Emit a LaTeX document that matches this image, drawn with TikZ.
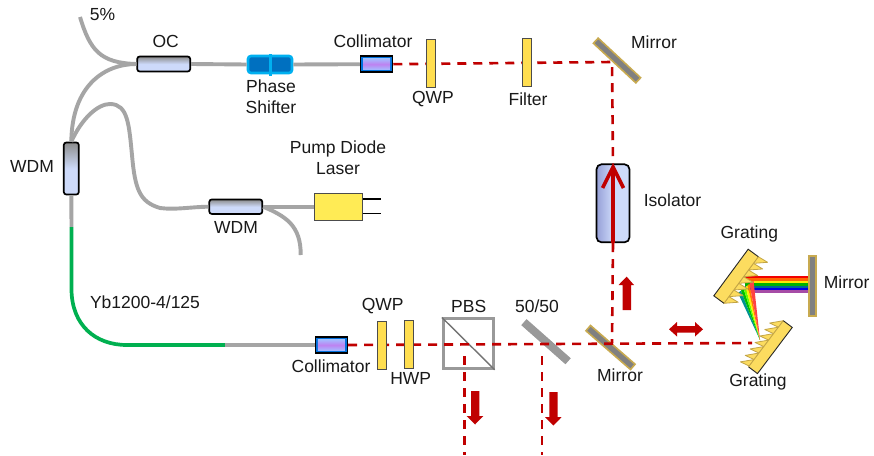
\documentclass[tikz,border=0pt]{standalone}
\usepackage{fontspec}
\setmainfont{Liberation Sans}
\definecolor{beamred}{RGB}{192,0,0}
\definecolor{fibergray}{RGB}{165,165,165}
\definecolor{fibergreen}{RGB}{0,176,80}
\definecolor{plateyellow}{RGB}{255,222,80}
\definecolor{pumpyellow}{RGB}{255,235,85}
\definecolor{gold}{RGB}{200,170,80}
\definecolor{gratefill}{RGB}{252,220,95}
\definecolor{grateedge}{RGB}{195,165,70}
\definecolor{boxblue}{RGB}{205,218,250}
\definecolor{isoleft}{RGB}{150,160,215}
\definecolor{psout}{RGB}{0,176,240}
\definecolor{psin}{RGB}{0,112,192}
\definecolor{colblue}{RGB}{0,112,220}
\definecolor{coledge}{RGB}{165,185,255}
\definecolor{colmid}{RGB}{190,130,240}
\tikzset{
  x=1pt,y=-1pt,
  lbl/.style={font=\fontsize{17.5}{21}\selectfont,text=black!90,inner sep=0pt,align=center},
  fiber/.style={draw=fibergray,line width=3.9pt},
  greenfiber/.style={draw=fibergreen,line width=3.7pt},
  beam/.style={draw=beamred,line width=2.6pt,dash pattern=on 9pt off 7pt},
  coupler/.style={draw=black,line width=1.7pt,rounded corners=2.5pt,inner sep=0pt,top color=black!45,bottom color=boxblue,middle color=boxblue},
  plate/.style={draw=black!70,line width=0.9pt,fill=plateyellow,minimum width=9pt,minimum height=48pt,inner sep=0pt},
  colouter/.style={draw=black,line width=1.5pt,fill=colblue,minimum width=32pt,minimum height=16pt,inner sep=0pt},
  colinner/.style={inner sep=0pt,minimum width=27pt,minimum height=10.5pt,top color=coledge,bottom color=coledge,middle color=colmid},
  mirr/.style={draw=gold,line width=1.6pt,fill=black!50,inner sep=0pt,minimum height=7pt},
  bigarrow/.style={fill=beamred},
  isoarrow/.style={draw=beamred,line width=3.6pt},
  tooth/.style={draw=grateedge,line width=0.8pt,fill=gratefill,line join=round},
  gbody/.style={fill=gratefill},
  gedge/.style={draw=black!85,line width=0.9pt},
  gfront/.style={draw=grateedge,line width=0.8pt},
}
\begin{document}
\begin{tikzpicture}
\useasboundingbox[fill=white] (0,0) rectangle (874,455);
% junction and free-end coordinates
\coordinate (fivepct) at (80,17);
\coordinate (sp1) at (71.5,227);
\coordinate (sp2) at (225,345);
\coordinate (branchend) at (300.7,255);
\coordinate (c1) at (612,62);
\coordinate (c2) at (612,343);
\coordinate (c3) at (752,343);
\coordinate (pbsa) at (464.5,356);
\coordinate (pbsb) at (464.5,455);
\coordinate (bsa) at (542,356);
\coordinate (bsb) at (542,455);
% mirrors behind the beam
\node[mirr,minimum width=58pt,rotate=-43] (mtop) at (617,60.5) {};
\node[mirr,minimum width=59pt,rotate=-41] (mlow) at (610.5,347.5) {};
\node[draw=black!40,line width=1pt,fill=black!40,inner sep=0pt,minimum width=58pt,minimum height=7pt,rotate=-41.5] (bs) at (546,341.7) {};
% PBS
\node[draw=black!40,line width=2.8pt,minimum width=50pt,minimum height=49.5pt,inner sep=0pt] (pbs) at (468.3,343.6) {};
\draw[draw=black!55,line width=1.4pt] (pbs.north west) -- (pbs.south east);
% elements
\node[coupler,minimum width=53pt,minimum height=15pt] (oc) at (163.7,64) {};
\node[coupler,minimum width=15pt,minimum height=52pt] (wdma) at (71.3,168.5) {};
\node[coupler,minimum width=53pt,minimum height=14.5pt] (wdmb) at (235.8,206.7) {};
\node[draw=black!70,line width=0.9pt,fill=pumpyellow,minimum width=48pt,minimum height=27pt,inner sep=0pt] (pump) at (338.5,206.5) {};
\node[draw=psout,line width=2.6pt,rounded corners=3pt,fill=psin,minimum width=44pt,minimum height=17pt,inner sep=0pt] (ps) at (270,64.5) {};
\node[fill=psout,minimum width=3pt,minimum height=22pt,inner sep=0pt] (psb) at (270,64.5) {};
\node[colouter] (cola) at (376.5,64.2) {};
\node[colinner] (colai) at (376.5,64.2) {};
\node[colouter] (colb) at (331.3,345) {};
\node[colinner] (colbi) at (331.3,345) {};
% fibres
\draw[fiber] (oc.west) .. controls (100,63) and (90,50) .. (fivepct);
\draw[fiber] (oc.west) .. controls (105,64) and (72,85) .. (wdma.north);
\draw[fiber] (wdma.north) .. controls (82,118) and (98,104) .. (110,104)
  .. controls (128,104) and (129,125) .. (132,155)
  .. controls (135,190) and (140,202) .. (160,208)
  .. controls (175,210) and (190,207) .. (wdmb.west);
\draw[fiber] (wdmb.east) -- (pump.west |- wdmb.east);
\draw[fiber] (wdmb.east) .. controls (285,216) and (301,225) .. (branchend);
\draw[fiber] (oc.east) -- (ps.west);
\draw[fiber] (ps.east) -- (cola.west);
\draw[fiber] (wdma.south) -- (sp1);
\draw[greenfiber] (sp1) -- (71.5,290) .. controls (72,325) and (95,345) .. (127,345) -- (sp2);
\draw[fiber] (sp2) -- (colb.west);
% pump pins
\coordinate (pin1) at (380.7,199);
\coordinate (pin2) at (380.7,213.3);
\draw[black,line width=1.2pt] (pump.east |- pin1) -- (pin1);
\draw[black,line width=1.2pt] (pump.east |- pin2) -- (pin2);
% isolator (before beam)
\node[draw=black,line width=1.7pt,rounded corners=5pt,inner sep=0pt,minimum width=33pt,minimum height=78pt,left color=isoleft,right color=boxblue,middle color=boxblue] (iso) at (613,203.3) {};
% beams
\draw[beam] (cola.east) -- (c1) -- (iso.north);
\draw[beam] (iso.south) -- (c2);
\draw[beam] (colb.east) -- (c3);
\draw[beam] (pbsa) -- (pbsb);
\draw[beam] (bsa) -- (bsb);
% isolator arrow
\coordinate (isotip) at (613,167);
\coordinate (barbl) at (602.5,188);
\coordinate (barbr) at (623.5,188);
\draw[isoarrow] (iso.south) -- (isotip);
\draw[isoarrow,line join=miter] (barbl) -- (isotip) -- (barbr);
% plates
\node[plate] (qwpa) at (431.3,63.5) {};
\node[plate] (filt) at (527,62.5) {};
\node[plate] (qwpb) at (382.2,345) {};
\node[plate] (hwp) at (409.2,344) {};
% big arrows
\fill[bigarrow] (622.5,310) -- (622.5,285) -- (618.5,285) -- (626.7,276.7) -- (634,285) -- (631,285) -- (631,310) -- cycle;
\fill[bigarrow] (471,391) -- (479.3,391) -- (479.3,416) -- (483.3,416) -- (475,424.5) -- (466.7,416) -- (471,416) -- cycle;
\fill[bigarrow] (549.3,392) -- (557.5,392) -- (557.5,417) -- (561.7,417) -- (553.4,425.5) -- (545,417) -- (549.3,417) -- cycle;
\fill[bigarrow] (669,329.3) -- (677,322) -- (677,326) -- (695,326) -- (695,322) -- (703,329.3) -- (695,336.5) -- (695,332.6) -- (677,332.6) -- (677,336.5) -- cycle;
% right mirror
\node[draw=gold,line width=1.8pt,fill=black!50,inner sep=0pt,minimum width=7pt,minimum height=60pt] (mr) at (812.7,285.7) {};
% rainbow band
\foreach \c [count=\i from 0] in {red!95!black,orange!80!red,yellow!90!orange,green!70!black,teal!80!blue,blue!90!black,violet!70!white}{
  \fill[\c] (745,{276+\i*2.4}) rectangle (807.5,{276+(\i+1)*2.4});
}
% rainbow fan
\foreach \c/\a/\b in {teal!85!cyan/738/741,green!75!black/741/743.5,green!60!yellow/743.5/745.5,yellow/745.5/747.5,orange/747.5/749.5,red!65!pink/749.5/753.5}{
  \fill[\c] (760,340) -- (\a,{293-(\a-738)*0.8}) -- (\b,{293-(\b-738)*0.8}) -- cycle;
}
% gratings
\begin{scope}[shift={(758.3,256.7)},rotate=233.6]
  \foreach \i in {0,...,6}{
    \draw[tooth] ({\i*8.27},0) -- ({\i*8.27-1},-10.8) -- ({(\i+1)*8.27},0) -- cycle;
  }
  \fill[gbody] (0,0) rectangle (57.9,12.6);
  \draw[gfront] (0,0) -- (57.9,0);
  \draw[gedge] (0,0) -- (0,12.6) -- (57.9,12.6) -- (57.9,0);
\end{scope}
\begin{scope}[shift={(783.3,320.7)},rotate=233]
  \foreach \i in {0,...,6}{
    \draw[tooth] ({\i*8.1},0) -- ({(\i+1)*8.1+2},9.5) -- ({(\i+1)*8.1},0) -- cycle;
  }
  \fill[gbody] (0,0) rectangle (57.8,-11.2);
  \draw[gfront] (0,0) -- (57.8,0);
  \draw[gedge] (0,0) -- (0,-11.2) -- (57.8,-11.2) -- (57.8,0);
\end{scope}
% labels
\node[lbl] (t5) at (102.5,15) {5\%};
\node[lbl] (toc) at (165.7,41) {OC};
\node[lbl] (tps) at (271,96.5) {Phase\\Shifter};
\node[lbl] (tcola) at (373,41) {Collimator};
\node[lbl] (tqwpa) at (433,99) {QWP};
\node[lbl] (tfilt) at (528,99) {Filter};
\node[lbl] (tma) at (654,42) {Mirror};
\node[lbl] (twa) at (32,166) {WDM};
\node[lbl] (tpump) at (338,157.5) {Pump Diode\\Laser};
\node[lbl] (twb) at (236,227) {WDM};
\node[lbl] (tiso) at (672.5,200) {Isolator};
\node[lbl] (tyb) at (145,302) {Yb1200-4/125};
\node[lbl] (tcolb) at (331,366) {Collimator};
\node[lbl] (tqwpb) at (382.7,306.5) {QWP};
\node[lbl] (thwp) at (410.7,378) {HWP};
\node[lbl] (tpbs) at (468.7,306.5) {PBS};
\node[lbl] (tbs) at (537,306.5) {50/50};
\node[lbl] (tmb) at (620,375) {Mirror};
\node[lbl] (tga) at (749.3,234) {Grating};
\node[lbl] (tgb) at (758,382) {Grating};
\node[lbl] (tmr) at (846.7,282.5) {Mirror};
\end{tikzpicture}
\end{document}
